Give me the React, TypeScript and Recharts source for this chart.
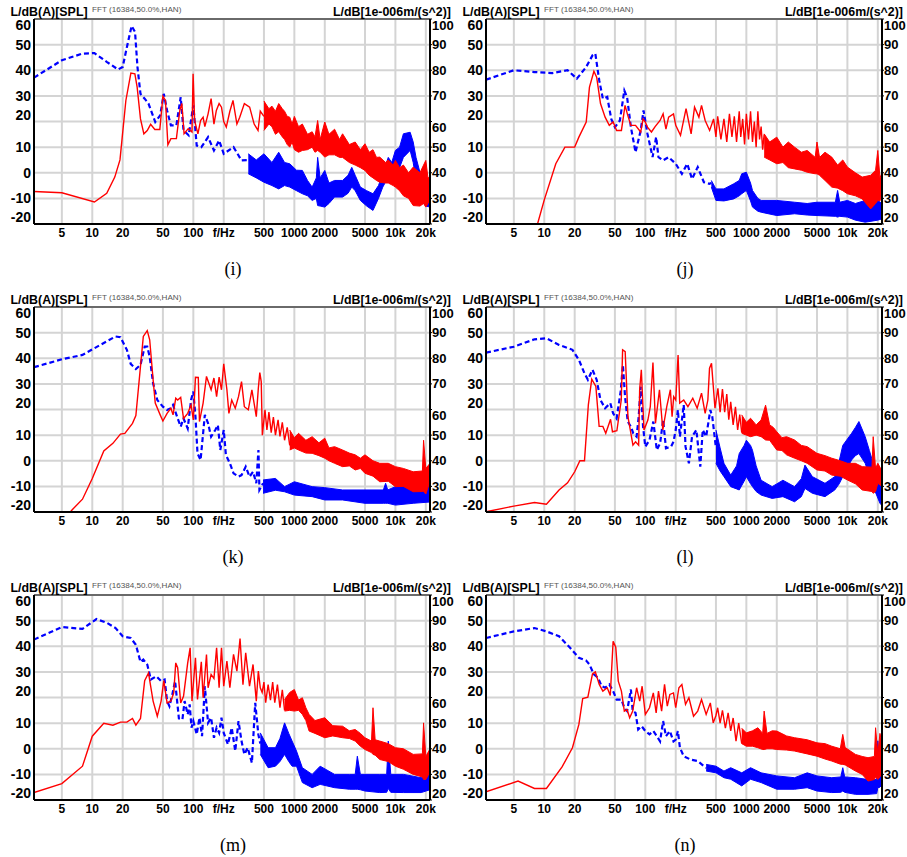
import React from 'react';
import {
  ComposedChart,
  Line,
  Area,
  XAxis,
  YAxis,
  CartesianGrid,
  ReferenceLine,
} from 'recharts';

// [Hz, dB(A)] sound pressure level, sparse part of the spectrum
const splI = [[2.65,-7.3],[5,-7.8],[10.5,-11.4],[13.9,-8],[16.7,-1.7],[18.8,5],[21.5,28.2],[24.1,38.9],[26.4,38.6],[27.8,33.4],[30,21],[32.4,15.2],[35,16.5],[37.8,18.9],[41.6,16.9],[46.6,16.9],[50,29.9],[53,28.2],[56,10.9],[60,13.3],[68,13.3],[73.5,24.3],[77,27],[81,15.2],[89,17.2],[97,15.9],[99.5,38.6],[103,20.4],[111,15.2],[118,20.4],[125,21.7],[130,18],[140,23],[150,28.9],[160,19],[169,24.3],[180,27],[190,25.6],[200,20],[212,17.8],[230,24],[247,28.2],[270,19],[288,21.7],[320,27],[361,25.6],[400,19],[437,16.5],[460,24],[500,22]];
const splJ = [[7.2,-24],[8.5,-20.5],[10,-10.6],[13,3.5],[16,10],[20,10],[22,13.9],[26,19.8],[28,33.4],[31,39.6],[33,37.3],[36,27],[40,21.7],[44,18.5],[48,19.8],[52,16.5],[58,16.5],[63,26.3],[67,22.4],[72,18.5],[80,18.5],[90,15.9],[95,21],[100,19.8],[105,17.8],[115,15.9],[125,18],[140,20.4],[150,23],[160,17],[170,21.7],[190,23],[200,18.5],[223,14.6],[253,25],[284,15.2],[307,25.6],[339,21.7],[360,26.3],[391,20.4],[433,16.5],[474,21],[500,14],[520,22],[560,13],[600,21],[640,12],[680,23],[720,14],[760,22],[800,12],[850,24],[880,14],[920,21],[960,11],[1000,23],[1050,13],[1100,24],[1150,12],[1200,20],[1250,10],[1300,24],[1350,13],[1400,18],[1450,9],[1500,15]];
const splK = [[5.5,-22],[6.3,-19.2],[8,-15],[10,-6.9],[13,3.8],[16,6.8],[19,10.4],[21,10.7],[25,14.6],[27,17.6],[32,48.5],[35,50.8],[37,47.2],[40,31.6],[42,22.5],[47,17.9],[50,15.5],[55,18.5],[60,20.5],[63,17.9],[67,24.4],[70,23.7],[75,24.7],[80,16.5],[88,18.5],[95,21.8],[100,15.9],[105,32.6],[112,32.5],[115,15.3],[125,22.5],[135,32.9],[150,27.7],[160,32.3],[170,25],[180,32.6],[190,27.7],[200,37.8],[215,27.7],[225,18.5],[240,23.7],[260,20.5],[280,25],[300,30.9],[320,21.1],[350,19.9],[380,27.7],[420,17.2],[440,28.3],[455,34.4],[470,30.9],[482,10],[512,19.9],[535,12],[560,19],[590,11],[620,17],[650,10],[690,16],[720,9.5],[760,15],[800,8],[850,13],[900,6]];
const splL = [[2.65,-19.9],[5,-17.7],[8,-16.3],[10.5,-17],[14,-11.4],[17,-8.6],[20,-4.3],[22.5,0],[25,0],[27.3,21.8],[29.5,31.8],[32.4,29],[34.9,13.4],[38,13.4],[40.6,10.7],[45.3,16.2],[47.3,11.3],[52.3,11.7],[57.8,23.7],[59.6,43.3],[63.2,42.6],[67.3,17.2],[71,12],[75.4,6.1],[80.1,7.4],[85.9,6.1],[87.9,27.7],[91.3,35.5],[97,12],[106,15.9],[112,21.1],[119,38.3],[126,14.6],[138,27.7],[149,12],[163,21.1],[177,27.7],[184,17.2],[191,25],[200,23.7],[211,41.3],[219,22.5],[240,23.7],[264,21.1],[295,24.4],[326,20.5],[360,26.4],[391,18.5],[416,23.7],[432,36.1],[452,38],[489,20.5],[523,28.3],[550,19],[580,28],[610,19],[640,26],[670,16],[700,23],[740,14],[780,21],[820,12],[860,18],[900,11]];
const splM = [[2.65,-17.1],[5,-13.6],[8,-6.8],[10,4.9],[13,9.9],[16,9.2],[19,10.4],[22,10.4],[25,11.8],[27,9.2],[30,11.8],[33,26.6],[36,29.6],[40,18.6],[44,12.7],[48,18.6],[51,26.6],[55,17.9],[60,18.6],[64,21.8],[67,33.5],[70,31.6],[75,17.9],[80,20.5],[88,33.5],[93,39.4],[97,18.6],[105,35.5],[110,19.2],[120,33.9],[125,19.9],[135,36.8],[140,23.8],[150,29],[160,27.4],[170,39.4],[180,23.8],[190,39.4],[200,24.4],[215,34.2],[230,23.8],[250,36.8],[270,30.3],[290,43],[310,25],[330,37.4],[360,24.4],[390,32.9],[420,18.6],[440,30.3],[460,23.8],[480,22],[500,26],[520,18],[550,25],[580,19],[610,26],[640,18],[680,25],[720,16],[760,23],[800,15]];
const splN = [[2.65,-16.8],[5.5,-12.6],[8,-15.5],[10.5,-15.5],[15,-7.1],[19,0.4],[22,9.5],[24,19.6],[27,20.1],[30,29.2],[32,30],[35,25.1],[38,22.5],[42,23.8],[45,20.8],[48,41.9],[51,39.6],[54,26.4],[58,22.5],[62,14.7],[66,15.3],[70,12.1],[75,14.7],[82,23.8],[88,18.6],[93,24.4],[100,13.4],[110,16],[120,21.8],[128,14],[135,22.5],[145,14.7],[155,25.1],[165,16.6],[175,21.2],[190,21.8],[200,16],[215,23.8],[230,25.1],[250,17.3],[270,19.9],[300,12.7],[330,14.7],[360,19.2],[400,13.4],[440,17.9],[470,10.1],[500,13],[520,16],[550,10],[580,15],[620,8],[660,14],[700,7],[740,12],[790,3],[840,10],[900,2]];

// [Hz, low, high] envelope of the dense SPL spectrum
const splBandI = [[500,16.5,28],[560,19,25],[600,18,26],[650,15,24],[700,16,27],[760,14,25],[800,13,24],[850,11,22],[900,10,21.7],[950,12,19],[1000,9,22],[1100,8,18],[1200,8.7,19],[1350,9,15],[1500,10,16],[1600,8,14],[1700,8.7,20.4],[1800,8,13],[2000,6.1,19.8],[2200,7,15],[2500,7,17],[2800,6,13],[3000,6,15.2],[3500,4,11],[4000,3,12],[4500,2,9],[5000,0.9,11.3],[5500,-1,8],[6000,-2,9],[6500,-3,6],[7000,-3.7,6.1],[8000,-4,4],[8500,-4,5],[9500,-5,3],[10000,-5.6,4.8],[11000,-7,2],[12000,-9,3],[13500,-10,0],[15000,-12.8,2.2],[17500,-13,0],[19000,-12,3],[20000,-13.4,4.8],[21000,-12,-2],[22000,-11,-1.7]];
const splBandJ = [[1500,6.1,15.2],[1700,5,12],[2000,3.5,13.9],[2300,4,10],[2600,2,12],[3000,1.5,10],[3500,1,8],[4000,0.2,8.7],[4800,-0.4,6],[5000,-0.4,12],[5300,-1,6],[6000,-3,8],[7000,-5.6,6.1],[8000,-6,3],[9000,-7,5],[10000,-8.2,2.2],[12000,-9,0],[14000,-10.2,-1.7],[17000,-14.1,-1],[19000,-12,1],[20000,-10.8,8.7],[21000,-11,-2],[22000,-8,0]];
const splBandK = [[900,4.2,12],[1000,5,9],[1100,4.2,10.7],[1300,3,8],[1500,2.9,9.4],[1750,2,7],[2000,1,8.8],[2200,0,5],[2500,-1,5.5],[3000,-2.3,4.2],[3500,-2,3],[4000,-3.6,2.3],[4500,-3,1],[5000,-4.9,2.3],[6000,-6,0],[7000,-8.2,-1],[8500,-8,-1],[10000,-10.1,-2.3],[12000,-10,-3],[15000,-12.1,-4.3],[18500,-12,-4],[19000,-12,8],[20000,-13,-3],[22000,-8,-1]];
const splBandL = [[900,10.7,17.9],[1000,10,15],[1100,9.4,16.6],[1250,10,14],[1400,9.4,15.9],[1550,8.1,21.7],[1700,8,14],[1850,6,13],[2000,4.2,11.3],[2250,4,9],[2500,2.3,9.4],[3000,1,8.1],[3500,0,6],[4000,-1,5.5],[5000,-3.6,2.9],[6000,-4,2],[7000,-5.6,1],[8500,-6,0],[10000,-7.5,-1],[12000,-9,-1],[14000,-11.4,-2.3],[17500,-12,-2.5],[18000,-12.7,9.4],[19000,-12,-3],[20000,-8.8,-1],[22000,-10,-4]];
const splBandM = [[800,14.7,19.2],[900,15,22],[1000,14.7,23.1],[1100,15,19],[1200,13.4,19.9],[1300,11,16],[1400,6.9,13.4],[1600,6,11],[2000,4.3,12.1],[2400,5,9],[3000,4.3,8.8],[3500,4,7],[4000,3,7.5],[4500,1,6],[5000,-0.3,4.3],[5800,-1.5,3],[6000,-2.2,16],[6300,-2.5,3.5],[7000,-4.2,3],[8500,-5,2],[10000,-6.8,0.4],[12000,-8,0],[15000,-10,-2.2],[18500,-11,-2],[19000,-12,10.1],[20000,-12,-3],[22000,-9,0]];
const splBandN = [[900,2,8],[1000,1,6.2],[1150,1,7],[1300,0.4,8.2],[1450,-0.3,6],[1500,-0.3,14.7],[1600,0,6],[1800,0,7],[2000,-0.3,6.9],[2500,-0.5,5],[3000,-0.9,4.3],[4000,-2,3.5],[5000,-2.9,2.3],[6000,-4,2],[7000,-4.8,1],[8500,-6,0],[9000,-6.1,5.6],[9500,-6.3,0.5],[12000,-8.7,-2.2],[14000,-10,-3],[16000,-12.6,-3.5],[18500,-12,-3],[19000,-11,8.2],[20000,-12,-2],[21000,-11,6],[22000,-9,2]];

// [Hz, dB re 1e-6 m/s^2] acceleration, sparse part of the spectrum
const accI = [[2.65,77.1],[5,83.9],[8,86.5],[10.5,86.7],[14,83.2],[18,80.3],[20,81.3],[22,89],[24.5,97.3],[26.5,94.9],[28,81.3],[30,70.8],[33,68.9],[36,67],[42,59.8],[47,62.4],[51,70.8],[55,64.3],[60,58.5],[68,58.5],[75,69.5],[80,56.5],[90,54.6],[100,66.3],[108,50.6],[120,50],[140,53.9],[160,48.7],[180,52.6],[200,47.4],[250,50],[300,44.8],[350,45]];
const accJ = [[2.65,76.3],[5,80],[8,79.3],[12,78.9],[17,80],[21,76.7],[26,81.3],[30,85.8],[32,86.5],[35,76],[38,68.9],[42,69.6],[46,61],[50,57.8],[56,60.4],[62,72.1],[66,69.5],[72,57.8],[80,48],[90,56.5],[96,64.3],[105,55.2],[118,46.1],[128,53.9],[135,46.1],[150,44.8],[170,46.1],[200,43.5],[230,39.6],[260,43.5],[290,37.6],[330,42.2],[380,36.3],[430,35.7],[450,36]];
const accK = [[2.65,76.5],[5,79.6],[8,81.3],[12,85.2],[17,88.5],[19,88.2],[22,83.3],[24,77.8],[27,75.8],[30,77.4],[33,84.5],[35,84.5],[37,80.6],[40,70.2],[44,63.7],[50,61.1],[55,59.8],[60,60.5],[63,61.8],[70,56.5],[75,53.3],[80,56.5],[88,52.6],[95,63.7],[100,67],[105,57.2],[110,42.9],[118,40.3],[125,50.7],[130,57.9],[140,54.6],[150,49.4],[165,52],[175,53.9],[185,44.2],[200,52],[210,42.3],[230,39],[250,35.1],[280,33.8],[300,34.4],[330,37.7],[360,33.8],[390,35.7],[420,31.2],[441,44.2],[451,28.6],[490,31.2]];
const accL = [[2.65,82.2],[5,84.5],[8,87.4],[10.5,87.8],[14,85.2],[19,83.3],[22,79.4],[25,74.1],[27,71.6],[30,75.5],[33,71.6],[36,63.7],[40,60.5],[45,62.5],[48,58.5],[52,56.5],[57,67],[60,77.4],[63,65],[67,55.3],[72,53.3],[76,50.7],[82,49.4],[86,57.2],[90,68.9],[95,53.3],[100,45.5],[110,48.1],[120,55.3],[130,44.2],[140,46.8],[150,55.9],[160,44.9],[180,45.5],[190,47.4],[200,52],[210,59.8],[220,49.4],[240,61.8],[250,45.5],[270,39],[290,49.4],[320,52],[350,37.7],[370,52],[400,49.4],[440,59.8],[460,57.2],[500,45]];
const accM = [[2.65,82.6],[5,87.5],[8,86.8],[11,90.6],[14,89.1],[17,87.1],[20,83.9],[24,83.2],[27,80.6],[30,73.9],[32,74.8],[35,72.9],[38,67],[43,68.3],[48,66.4],[52,67],[55,58.6],[58,56.6],[62,61.2],[66,66.4],[72,51.8],[78,51.4],[82,58.6],[88,53.4],[92,57.3],[96,48.2],[100,50.8],[108,45.6],[115,52.1],[122,44.9],[130,64.4],[140,50.1],[150,52.1],[160,44.3],[170,48.2],[180,46.2],[190,52.1],[200,46.2],[220,41.7],[240,48.2],[260,39.1],[280,50.8],[300,43],[320,37.8],[345,40.4],[380,34.5],[410,57.9],[440,45.6],[460,42]];
const accN = [[2.65,83.2],[5,85.8],[8,87.1],[10.5,85.8],[14,83.9],[18,79.4],[22,75.5],[26,74.4],[28,72.9],[31,69],[34,67.7],[37,64.4],[40,63.8],[44,65.1],[48,62.5],[52,59.2],[58,59.2],[62,56],[66,54.7],[72,63.1],[75,54.7],[80,54],[85,47.5],[92,48.8],[100,46.9],[110,45.6],[120,46.9],[130,44.9],[140,42.9],[150,50.8],[160,44.9],[175,46.9],[190,42.9],[200,43.6],[210,46.9],[220,40.4],[240,37.1],[280,35.8],[330,35.2],[380,33.2],[400,32.5]];

// [Hz, low, high] envelope of the dense acceleration spectrum
const accBandI = [[350,39.6,47.4],[420,38,45],[500,36.3,47.4],[600,35,44],[700,33.7,48],[800,35,44],[900,34.4,43.5],[1050,33,41],[1200,31.8,40.9],[1350,31,37],[1500,29.2,34.4],[1650,30,38],[1700,27.2,46],[1800,27,38],[2000,26.6,40.9],[2200,28,36],[2500,30.5,37],[3000,30.5,37],[3400,32,39],[3700,34.4,42.1],[4000,33,39],[4500,29.2,34.4],[5200,27,33],[6000,25.3,31.8],[6800,30,35],[7500,34.4,39.6],[8500,38.3,46],[9200,36,44],[10000,39.6,48.7],[11000,42,50],[12000,46,55.2],[14000,48.7,55.8],[15000,44,52],[16000,37,46],[18000,29.2,38.3],[20000,27,35],[22000,26.6,34.4]];
const accBandJ = [[450,34.4,37],[500,29.2,33.7],[600,29,33.7],[750,29.8,35.7],[850,31,37],[900,31.8,39.6],[1000,33.1,40.2],[1100,29,36],[1150,26.6,33.1],[1300,25,30],[1400,24.6,29.2],[2000,23.3,29.2],[3000,24,28.5],[4000,23.5,28],[5000,23.3,28.5],[7600,23,28.5],[8000,22.7,33.1],[8400,23,28.5],[10000,22.7,29.2],[12000,21.5,28],[15000,20.7,29.2],[20000,21.5,29.2],[22000,22,28]];
const accBandK = [[490,27.3,32.5],[650,28.5,33.1],[800,27.9,29.9],[1000,26.6,31.8],[1500,26,29.9],[2000,24.7,29.5],[3000,24.7,28.6],[5000,23.4,28.6],[7600,23.4,28.6],[8000,23.4,31.2],[8400,23.4,28.6],[10000,22.7,29.9],[15000,23.4,29.9],[22000,23.9,31.8]];
const accBandL = [[500,39,52],[550,36,45],[600,33.8,39],[700,29.9,34.4],[800,29,38],[850,28.6,42.8],[950,32,46],[1000,33.8,48],[1100,31,46],[1150,29.9,44.1],[1250,28,38],[1400,26.6,32.4],[1800,25.3,29.9],[2300,26,32.4],[3000,24,29.9],[3500,26,33],[3800,29.2,38.3],[4500,27.3,33.8],[6000,26,31.2],[7500,28.6,33.8],[8300,31,40],[9000,33.8,46],[11000,40.3,50.7],[12000,42,53],[13000,42.8,55.3],[15000,39,49.4],[16500,34,44],[18000,29.9,39],[21000,23.4,33.8],[22000,22.5,30]];
const accBandM = [[460,37.8,46.2],[550,32.6,40.4],[650,33.2,40.4],[720,35,44],[800,37.8,50.1],[880,35,46],[950,33.2,43],[1050,33.2,39.1],[1200,26.8,32.6],[1500,24.8,30],[1800,26.1,33.2],[2500,24.8,30],[3500,24.2,30],[4000,24.2,30],[4200,24.2,37.1],[4500,24,30],[5000,23.5,30],[7000,22.9,30],[8200,23,30],[8500,24.5,43],[9000,23,30],[12000,22.9,30],[18000,22.9,28.7],[22000,24,31.3]];
const accBandN = [[400,31.3,33.9],[500,30.6,33.2],[600,28.7,31.3],[700,28.1,32.6],[900,25.5,30.6],[1100,28.1,32.6],[1400,26.8,30.6],[2000,24.2,29.4],[3000,24.2,28.7],[4000,24.8,30.6],[5000,23.5,29.4],[7000,22.9,28.7],[8600,23,29],[9000,23.5,32.6],[9400,23,29],[12000,22.2,28.7],[16000,22.2,28],[19500,22.5,28],[20000,24.8,43.1],[21000,25,30],[22000,26,32]];

const X_TICKS = [5, 10, 20, 50, 100, 200, 500, 1000, 2000, 5000, 10000, 20000];
const SPL_TICKS = [-20, -10, 0, 10, 20, 30, 40, 50, 60];
const ACC_TICKS = [20, 30, 40, 50, 60, 70, 80, 90, 100];

const fmtX = (f: number) =>
  f === 200 ? 'f/Hz' : f === 10000 ? '10k' : f === 20000 ? '20k' : String(f);

const toPts = (a: number[][]) => a.map(([f, v]) => ({ f, v }));
const toBand = (a: number[][]) => a.map(([f, lo, hi]) => ({ f, r: [lo, hi] }));

const FONT = '"Liberation Sans", Arial, sans-serif';

// end labels are pulled inside the plot like the original software does
const YTick = (props: any) => {
  const { x, y, payload, textAnchor, size = 14 } = props;
  const v = payload.value;
  const shift = v === 60 || v === 100 ? 6 : v === -20 || v === 20 ? -7 : 0;
  return (
    <text x={x} y={y + shift} textAnchor={textAnchor} dominantBaseline="central"
      fontSize={size} fontWeight={700} fill="#000" fontFamily={FONT}>
      {v}
    </text>
  );
};

type PanelProps = {
  left: number;
  top: number;
  caption: string;
  spl: number[][];
  splBand: number[][];
  acc: number[][];
  accBand: number[][];
};

function Panel({ left, top, caption, spl, splBand, acc, accBand }: PanelProps) {
  return (
    <div style={{ position: 'absolute', left, top, width: 462, height: 290 }}>
      <ComposedChart width={462} height={260} margin={{ top: 19, right: 7, bottom: 0, left: 0 }}>
        <CartesianGrid yAxisId="l" stroke="#d4d4d4" strokeWidth={2} />
        <XAxis
          dataKey="f"
          type="number"
          scale="log"
          domain={[2.65, 22000]}
          allowDataOverflow
          ticks={X_TICKS}
          interval={0}
          tickFormatter={fmtX}
          height={36}
          tickLine={false}
          tickSize={0}
          tickMargin={4}
          axisLine={{ stroke: '#000', strokeWidth: 2 }}
          tick={{ fontSize: 12, fontWeight: 700, fill: '#000', fontFamily: FONT }}
        />
        <YAxis
          yAxisId="l"
          domain={[-20, 60]}
          allowDataOverflow
          ticks={SPL_TICKS}
          interval={0}
          width={34}
          tickLine={false}
          tickSize={0}
          tickMargin={3}
          axisLine={{ stroke: '#000', strokeWidth: 2 }}
          tick={(p: any) => <YTick {...p} />}
        />
        <YAxis
          yAxisId="r"
          orientation="right"
          domain={[20, 100]}
          allowDataOverflow
          ticks={ACC_TICKS}
          interval={0}
          width={25}
          tickSize={2}
          tickMargin={0}
          tickLine={{ stroke: '#000' }}
          axisLine={{ stroke: '#000', strokeWidth: 2 }}
          tick={(p: any) => <YTick {...p} size={13} />}
        />
        <ReferenceLine yAxisId="l" y={60} stroke="#000" strokeWidth={1} />
        <Area yAxisId="r" type="linear" data={toBand(accBand)} dataKey="r"
          stroke="#0000ff" strokeWidth={1} fill="#0000ff" fillOpacity={1}
          dot={false} activeDot={false} isAnimationActive={false} />
        <Line yAxisId="r" type="linear" data={toPts(acc)} dataKey="v"
          stroke="#0000ff" strokeWidth={2.2} strokeDasharray="5 3"
          dot={false} activeDot={false} isAnimationActive={false} />
        <Area yAxisId="l" type="linear" data={toBand(splBand)} dataKey="r"
          stroke="#ff0000" strokeWidth={1} fill="#ff0000" fillOpacity={1}
          dot={false} activeDot={false} isAnimationActive={false} />
        <Line yAxisId="l" type="linear" data={toPts(spl)} dataKey="v"
          stroke="#ff0000" strokeWidth={1.4}
          dot={false} activeDot={false} isAnimationActive={false} />
      </ComposedChart>
      <svg width={462} height={290} style={{ position: 'absolute', left: 0, top: 0, pointerEvents: 'none' }}>
        <text x={10.5} y={15.5} fontFamily={FONT} fontSize={12.4} fontWeight={700} fill="#000">
          L/dB(A)[SPL]
        </text>
        <text x={92} y={11.5} fontFamily={FONT} fontSize={8.1} fill="#555">
          FFT (16384,50.0%,HAN)
        </text>
        <text x={451} y={15.5} textAnchor="end" fontFamily={FONT} fontSize={12.4} fontWeight={700} fill="#000">
          L/dB[1e-006m/(s^2)]
        </text>
        <text x={233} y={275} textAnchor="middle" fontFamily='"Liberation Serif", "Times New Roman", serif'
          fontSize={18} fill="#000">
          {caption}
        </text>
      </svg>
    </div>
  );
}

export default function App() {
  return (
    <div style={{ position: 'absolute', left: 0, top: 0, width: 907, height: 857, overflow: 'hidden', background: '#fff', fontFamily: FONT }}>
      <Panel left={0} top={0} caption="(i)" spl={splI} splBand={splBandI} acc={accI} accBand={accBandI} />
      <Panel left={452} top={0} caption="(j)" spl={splJ} splBand={splBandJ} acc={accJ} accBand={accBandJ} />
      <Panel left={0} top={288} caption="(k)" spl={splK} splBand={splBandK} acc={accK} accBand={accBandK} />
      <Panel left={452} top={288} caption="(l)" spl={splL} splBand={splBandL} acc={accL} accBand={accBandL} />
      <Panel left={0} top={576} caption="(m)" spl={splM} splBand={splBandM} acc={accM} accBand={accBandM} />
      <Panel left={452} top={576} caption="(n)" spl={splN} splBand={splBandN} acc={accN} accBand={accBandN} />
    </div>
  );
}
